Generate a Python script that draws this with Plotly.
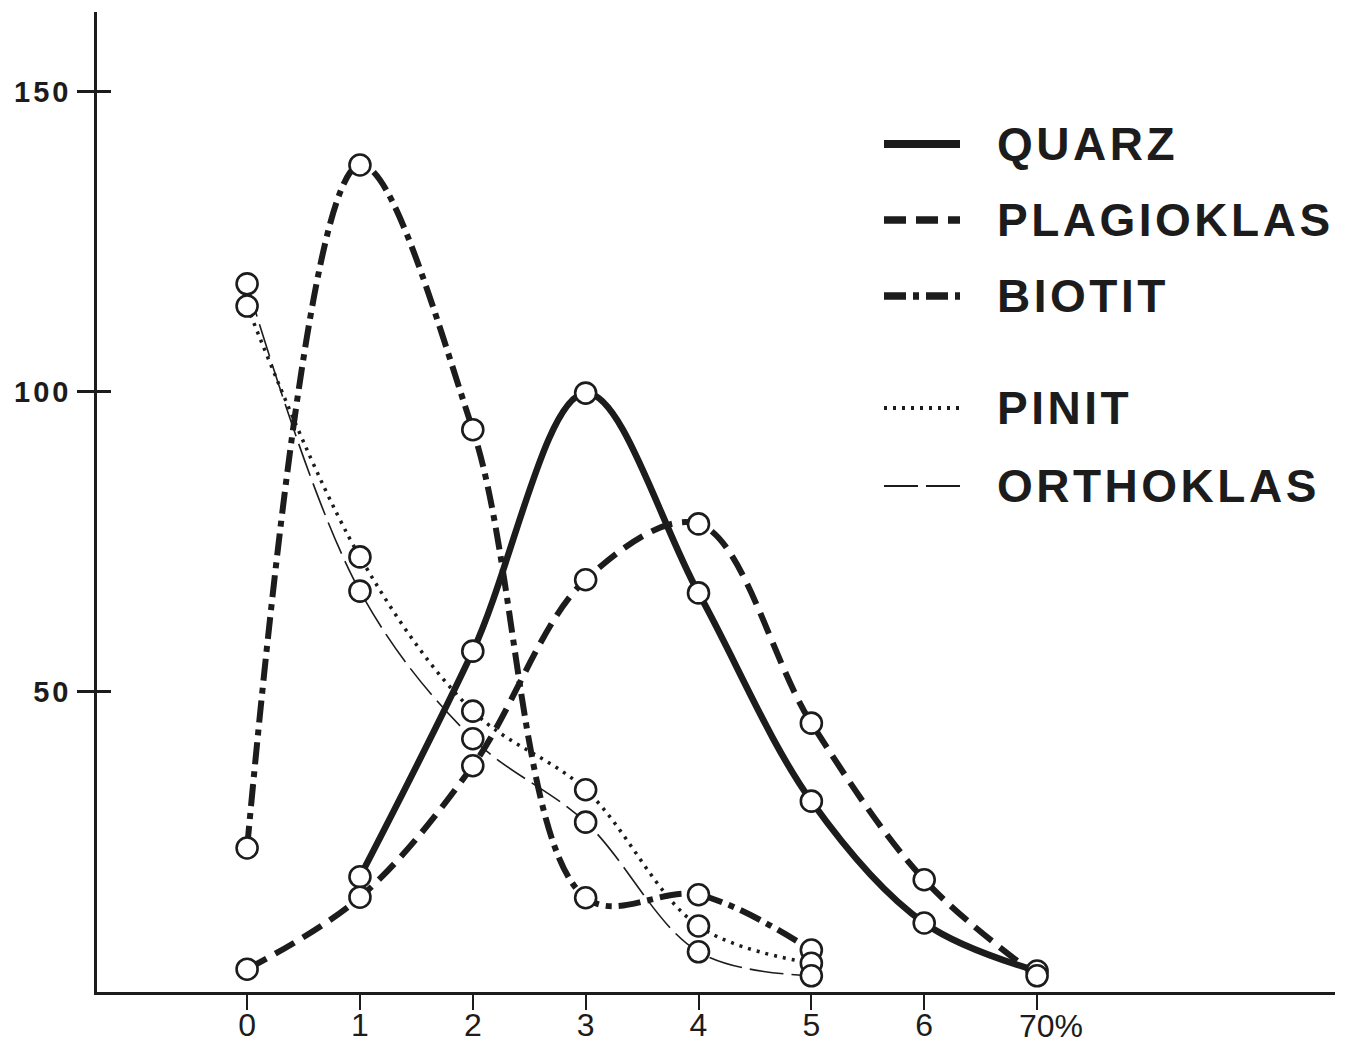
import plotly.graph_objects as go

# ---- data ----
x_vals = [0, 1, 2, 3, 4, 5, 6, 7]
x_tick_labels = ["0", "1", "2", "3", "4", "5", "6", ""]
y_tick_vals = [50, 100, 150]
y_tick_labels = ["50", "100", "150"]

quarz_x = [1, 2, 3, 4, 5, 6, 7]
quarz_y = [19.2, 56.8, 99.8, 66.5, 31.8, 11.5, 3.5]

plagioklas_x = [0, 1, 2, 3, 4, 5, 6, 7]
plagioklas_y = [3.8, 15.8, 37.7, 68.7, 78.0, 44.8, 18.7, 2.7]

biotit_x = [0, 1, 2, 3, 4, 5]
biotit_y = [24.0, 137.8, 93.7, 15.7, 16.2, 7.0]

pinit_x = [0, 1, 2, 3, 4, 5]
pinit_y = [114.3, 72.5, 46.8, 33.7, 11.0, 4.8]

orthoklas_x = [0, 1, 2, 3, 4, 5]
orthoklas_y = [118.0, 66.8, 42.2, 28.3, 6.7, 2.7]

series_names = ["QUARZ", "PLAGIOKLAS", "BIOTIT", "PINIT", "ORTHOKLAS"]

# ---- styles ----
INK = "#1c1c1c"
styles = {
    "QUARZ": dict(width=6.5, dash="solid"),
    "PLAGIOKLAS": dict(width=6, dash="22px,10px"),
    "BIOTIT": dict(width=6, dash="22px,7px,6px,7px"),
    "PINIT": dict(width=3.5, dash="3px,6px"),
    "ORTHOKLAS": dict(width=1.6, dash="34px,8px"),
}
data = {
    "QUARZ": (quarz_x, quarz_y),
    "PLAGIOKLAS": (plagioklas_x, plagioklas_y),
    "BIOTIT": (biotit_x, biotit_y),
    "PINIT": (pinit_x, pinit_y),
    "ORTHOKLAS": (orthoklas_x, orthoklas_y),
}

W, H = 1355, 1048
L, R, T, B = 97, 20, 12, 56
PW, PH = W - L - R, H - T - B
X0, X1 = -1.33, 9.64
Y0, Y1 = 0, 163.3

fig = go.Figure()

# lines first
for name in series_names:
    xs, ys = data[name]
    st = styles[name]
    fig.add_trace(go.Scatter(
        x=xs, y=ys, mode="lines", name=name,
        line=dict(color=INK, width=st["width"], dash=st["dash"],
                  shape="spline", smoothing=1.0),
        showlegend=False, hoverinfo="skip"))

# circles on top
for name in series_names:
    xs, ys = data[name]
    fig.add_trace(go.Scatter(
        x=xs, y=ys, mode="markers", name=name,
        marker=dict(symbol="circle", size=21, color="white",
                    line=dict(color=INK, width=2.6)),
        showlegend=False))

# invisible trace on overlay axis so the y ticks cross the axis
fig.add_trace(go.Scatter(x=[0], y=[0], yaxis="y2", mode="markers",
                         marker=dict(opacity=0), showlegend=False,
                         hoverinfo="skip"))

FONT = "Liberation Sans, Arial, sans-serif"


def spaced(t, sp):
    return f'<span style="letter-spacing:{sp}px">{t}</span>' if t else t


fig.update_layout(
    width=W, height=H,
    margin=dict(l=L, r=R, t=T, b=B, autoexpand=False),
    paper_bgcolor="white", plot_bgcolor="white",
    showlegend=False,
    xaxis=dict(range=[X0, X1], showgrid=False, zeroline=False,
               automargin=False,
               showline=True, linecolor=INK, linewidth=2.5,
               tickmode="array", tickvals=x_vals, ticktext=x_tick_labels,
               ticks="outside", ticklen=15, tickwidth=2, tickcolor=INK,
               ticklabelstandoff=-12,
               tickfont=dict(family=FONT, size=32, color=INK)),
    yaxis=dict(range=[Y0, Y1], showgrid=False, zeroline=False,
               automargin=False,
               showline=True, linecolor=INK, linewidth=2.5,
               tickmode="array", tickvals=y_tick_vals,
               ticktext=[spaced(t, 3) for t in y_tick_labels],
               ticks="outside", ticklen=17, tickwidth=3, tickcolor=INK,
               tickfont=dict(family=FONT, size=29, color=INK, weight="bold")),
    yaxis2=dict(range=[Y0, Y1], overlaying="y", side="left", anchor="x",
                automargin=False,
                showgrid=False, zeroline=False, showline=False,
                tickmode="array", tickvals=y_tick_vals, ticktext=["", "", ""],
                ticks="inside", ticklen=14, tickwidth=3, tickcolor=INK,
                showticklabels=False),
)

# "70%" label at the last tick
fig.add_annotation(x=7, y=0, xref="x", yref="paper", text="70%",
                   showarrow=False, xanchor="left", yanchor="top",
                   xshift=-20, yshift=-14,
                   font=dict(family=FONT, size=32, color=INK))

# ---- hand-drawn style legend ----
def px(xp):
    return (xp - L) / PW


def py(yp):
    return (H - B - yp) / PH


legend_rows = [
    ("QUARZ", 144),
    ("PLAGIOKLAS", 220),
    ("BIOTIT", 296),
    ("PINIT", 408),
    ("ORTHOKLAS", 486),
]
for name, yp in legend_rows:
    st = styles[name]
    fig.add_shape(type="line", xref="paper", yref="paper",
                  x0=px(884), x1=px(960), y0=py(yp), y1=py(yp),
                  line=dict(color=INK,
                            width=st["width"] + (1.5 if st["width"] > 5 else 0.5),
                            dash=st["dash"]))
    fig.add_annotation(xref="paper", yref="paper", x=px(995), y=py(yp),
                       text=spaced(name, 3.5), showarrow=False,
                       xanchor="left", yanchor="middle",
                       font=dict(family=FONT, size=46, color=INK,
                                 weight="bold"))

fig.write_html("out.html",
               config={"displayModeBar": False},
               post_script="document.body.style.margin='0';")
